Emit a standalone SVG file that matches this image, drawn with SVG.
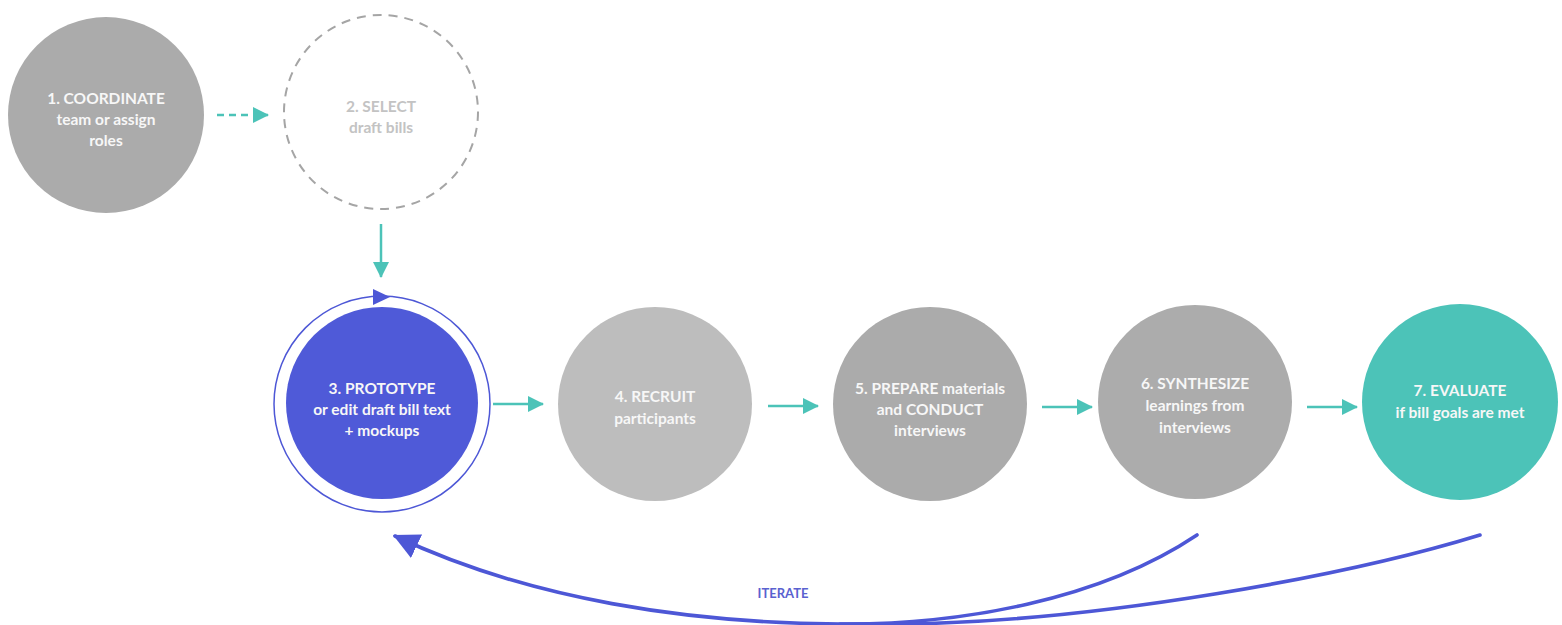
<svg xmlns="http://www.w3.org/2000/svg" width="1562" height="625" viewBox="0 0 1562 625">
<style>
.t{font-family:Lato,"Open Sans","Liberation Sans",sans-serif;font-weight:700;font-size:15.5px;text-anchor:middle;fill:#f7f7f7}
.g{fill:#c3c3c3}
.c{stroke:#4cc3b8;stroke-width:2.5;fill:none}
.it{stroke:#4d57d6;stroke-width:3.6;fill:none;stroke-linecap:round}
</style>
<defs>
<marker id="ah" viewBox="0 0 16 16" refX="15" refY="8" markerWidth="16" markerHeight="16" markerUnits="userSpaceOnUse" orient="auto">
<path d="M0,0 L16,8 L0,16 Z" fill="#4cc3b8"/>
</marker>
<marker id="bh" viewBox="0 0 24 24" refX="22" refY="12" markerWidth="26" markerHeight="26" markerUnits="userSpaceOnUse" orient="auto">
<path d="M0,0 L24,12 L0,24 Z" fill="#4d57d6"/>
</marker>
</defs>
<rect width="1562" height="625" fill="#ffffff"/>
<g id="connectors">
<line class="c" x1="217" y1="115" x2="268" y2="115" stroke-dasharray="7,5" marker-end="url(#ah)"/>
<line class="c" x1="381" y1="224" x2="381" y2="277" marker-end="url(#ah)"/>
<line class="c" x1="493" y1="404" x2="543" y2="404" marker-end="url(#ah)"/>
<line class="c" x1="768" y1="406" x2="818" y2="406" marker-end="url(#ah)"/>
<line class="c" x1="1042" y1="407" x2="1092" y2="407" marker-end="url(#ah)"/>
<line class="c" x1="1307" y1="407" x2="1357" y2="407" marker-end="url(#ah)"/>
<path class="it" d="M1197,535 C1100,600 960,625 840,624 C690,623 530,600 395,536" marker-end="url(#bh)"/>
<path class="it" d="M1480,535 C1350,575 1100,622 900,624 L840,624"/>
<text x="783" y="598" style="font-family:Lato,'Open Sans','Liberation Sans',sans-serif;font-weight:700;font-size:13px;text-anchor:middle;fill:#5a62d0">ITERATE</text>
</g>
<g id="n1">
<circle cx="106" cy="115" r="98" fill="#ababab"/>
<text class="t" x="106" y="104">1. COORDINATE</text>
<text class="t" x="106" y="125">team or assign</text>
<text class="t" x="106" y="146">roles</text>
</g>
<g id="n2">
<circle cx="381" cy="112" r="97" fill="none" stroke="#a5a5a5" stroke-width="2" stroke-dasharray="9,7"/>
<text class="t g" x="381" y="112">2. SELECT</text>
<text class="t g" x="381" y="133">draft bills</text>
</g>
<g id="n3">
<circle cx="382" cy="404" r="108" fill="none" stroke="#4d57d6" stroke-width="1.5"/>
<path d="M373,289 L390,297 L373,305 Z" fill="#4d57d6"/>
<circle cx="382" cy="403" r="96" fill="#4f5ad8"/>
<text class="t" x="382" y="394">3. PROTOTYPE</text>
<text class="t" x="382" y="415">or edit draft bill text</text>
<text class="t" x="382" y="436">+ mockups</text>
</g>
<g id="n4">
<circle cx="655" cy="404" r="97" fill="#bdbdbd"/>
<text class="t" x="655" y="402">4. RECRUIT</text>
<text class="t" x="655" y="424">participants</text>
</g>
<g id="n5">
<circle cx="930" cy="404" r="97" fill="#ababab"/>
<text class="t" x="930" y="394">5. PREPARE materials</text>
<text class="t" x="930" y="415">and CONDUCT</text>
<text class="t" x="930" y="436">interviews</text>
</g>
<g id="n6">
<circle cx="1195" cy="402" r="97" fill="#acacac"/>
<text class="t" x="1195" y="389">6. SYNTHESIZE</text>
<text class="t" x="1195" y="411">learnings from</text>
<text class="t" x="1195" y="433">interviews</text>
</g>
<g id="n7">
<circle cx="1460" cy="402" r="98" fill="#4cc3b8"/>
<text class="t" x="1460" y="396">7. EVALUATE</text>
<text class="t" x="1460" y="418">if bill goals are met</text>
</g>
</svg>
